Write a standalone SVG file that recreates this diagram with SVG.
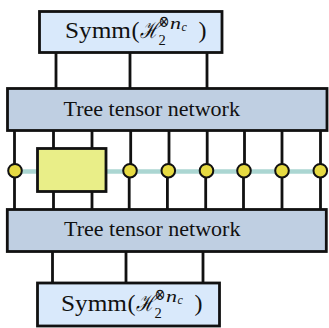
<svg xmlns="http://www.w3.org/2000/svg" width="329" height="328" viewBox="0 0 329 328">
<style>
.box{stroke:#111;stroke-width:2.8}
.symm{fill:#d9e9fb}
.ttn{fill:#bfcfe2}
.sq{fill:#e9ee88}
.wire{stroke:#111;stroke-width:2.8;fill:none}
.teal{stroke:#abd6d2;stroke-width:4.5;fill:none}
.site{fill:#e6da42;stroke:#111;stroke-width:2}
.t{font-family:"Liberation Serif","DejaVu Serif",serif;fill:#111}
.lbl{font-size:22px}
.m{font-size:24px}
.it{font-style:italic}
</style>
<defs>
<g id="symmtext">
<text class="t m" x="65" y="38" textLength="66" lengthAdjust="spacingAndGlyphs">Symm</text>
<text class="t m" x="131.5" y="38">(</text>
<text class="t it" x="140" y="38" font-size="23" textLength="19" lengthAdjust="spacingAndGlyphs">ℋ</text>
<text class="t" x="158.5" y="45" font-size="14.5">2</text>
<text class="t" x="158.5" y="26.5" font-size="16.5" textLength="11" lengthAdjust="spacingAndGlyphs">⊗</text>
<text class="t it" x="170" y="28.7" font-size="16" textLength="11" lengthAdjust="spacingAndGlyphs">n</text>
<text class="t it" x="181.5" y="31.3" font-size="12">c</text>
<text class="t m" x="198.5" y="38">)</text>
</g>
</defs>
<g id="connectors">
<path class="wire" d="M56 53V88M130 53V88M207 53V88"/>
<path class="wire" d="M14.5 131V209M53.5 131V209M92 131V209M130.7 131V171M129.2 171V209M169 131V171M167.4 171V209M207.2 131V171M205.7 171V209M244.5 131V171M243.5 171V209M282 131V209M320.5 131V209"/>
<path class="wire" d="M52.5 252V283M126 252V283M203 252V283"/>
<path class="teal" d="M15 171.5H320"/>
</g>
<g id="symm-top">
<rect class="box symm" x="39.5" y="11.5" width="182.5" height="41"/>
<use href="#symmtext"/>
</g>
<g id="ttn-top">
<rect class="box ttn" x="7.5" y="88.5" width="319.5" height="42"/>
<text class="t lbl" x="63.5" y="115.5">Tree tensor network</text>
</g>
<g id="block">
<rect class="box sq" x="37.5" y="148.5" width="68.5" height="43"/>
</g>
<g id="sites">
<circle class="site" cx="15" cy="170.7" r="6.8"/>
<circle class="site" cx="130" cy="170.7" r="6.8"/>
<circle class="site" cx="168.3" cy="170.7" r="6.8"/>
<circle class="site" cx="206.5" cy="170.7" r="6.8"/>
<circle class="site" cx="244" cy="170.7" r="6.8"/>
<circle class="site" cx="282" cy="170.7" r="6.8"/>
<circle class="site" cx="320.3" cy="170.7" r="6.8"/>
</g>
<g id="ttn-bottom">
<rect class="box ttn" x="7.3" y="209.5" width="319" height="42"/>
<text class="t lbl" x="64" y="236">Tree tensor network</text>
</g>
<g id="symm-bottom">
<rect class="box symm" x="37.5" y="283" width="182" height="43"/>
<use href="#symmtext" transform="translate(-4,273)"/>
</g>
</svg>
